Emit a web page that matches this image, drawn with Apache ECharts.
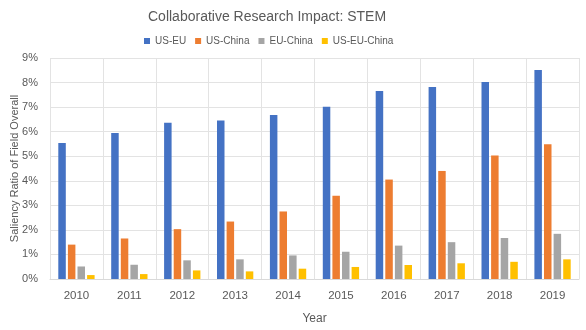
<!DOCTYPE html>
<html lang="en">
<head>
<meta charset="UTF-8">
<title>Collaborative Research Impact: STEM</title>
<script src="https://cdn.jsdelivr.net/npm/echarts@6/dist/echarts.min.js"></script>
<style>
  html, body { margin: 0; padding: 0; background: #fff; }
</style>
</head>
<body>
<div id="main" style="width: 586px; height: 330px;"></div>
<script type="text/javascript">
    var years = ['2010', '2011', '2012', '2013', '2014', '2015', '2016', '2017', '2018', '2019'];
    var usEu = [5.54, 5.95, 6.36, 6.45, 6.68, 7.01, 7.66, 7.82, 8.02, 8.51];
    var usChina = [1.40, 1.65, 2.03, 2.34, 2.75, 3.39, 4.05, 4.40, 5.03, 5.49];
    var euChina = [0.51, 0.58, 0.76, 0.80, 0.96, 1.11, 1.36, 1.50, 1.67, 1.84];
    var usEuChina = [0.16, 0.20, 0.35, 0.31, 0.42, 0.49, 0.57, 0.64, 0.70, 0.80];

    var font = 'Liberation Sans';
    var textColor = '#595959';

    function bar(name, data, color) {
        return {
            name: name,
            type: 'bar',
            data: data,
            barWidth: 7.5,
            barGap: '28%',
            itemStyle: { color: color }
        };
    }

    var myChart = echarts.init(document.getElementById('main'));
    var option = {
        animation: false,
        textStyle: { fontFamily: font },
        title: {
            text: 'Collaborative Research Impact: STEM',
            left: 143,
            top: 5,
            textStyle: { fontFamily: font, fontSize: 14, fontWeight: 'normal', color: textColor }
        },
        legend: {
            top: 31,
            left: 139,
            itemWidth: 6,
            itemHeight: 6,
            itemGap: 9,
            icon: 'rect',
            textStyle: { fontFamily: font, fontSize: 10, color: textColor },
            data: ['US-EU', 'US-China', 'EU-China', 'US-EU-China']
        },
        grid: { left: 50, right: 7, top: 58, bottom: 51, outerBoundsMode: 'none' },
        xAxis: {
            type: 'category',
            data: years,
            name: 'Year',
            nameLocation: 'middle',
            nameGap: 34,
            nameTextStyle: { fontFamily: font, fontSize: 12, color: textColor },
            axisLine: { lineStyle: { color: '#d9d9d9' } },
            axisTick: { show: false },
            axisLabel: { fontFamily: font, fontSize: 11.5, color: textColor, margin: 11 },
            splitLine: { show: true, lineStyle: { color: '#e3e3e3' } }
        },
        yAxis: {
            type: 'value',
            min: 0,
            max: 9,
            interval: 1,
            name: 'Saliency Ratio of Field Overall',
            nameLocation: 'middle',
            nameGap: 30,
            nameMoveOverlap: false,
            nameTextStyle: { fontFamily: font, fontSize: 11, color: textColor },
            axisLine: { show: false },
            axisTick: { show: false },
            axisLabel: { fontFamily: font, fontSize: 11, color: textColor, formatter: '{value}%', margin: 12 },
            splitLine: { lineStyle: { color: '#e3e3e3' } }
        },
        series: [
            bar('US-EU', usEu, '#4472C4'),
            bar('US-China', usChina, '#ED7D31'),
            bar('EU-China', euChina, '#A5A5A5'),
            bar('US-EU-China', usEuChina, '#FFC000')
        ]
    };
    myChart.setOption(option);
</script>
</body>
</html>
